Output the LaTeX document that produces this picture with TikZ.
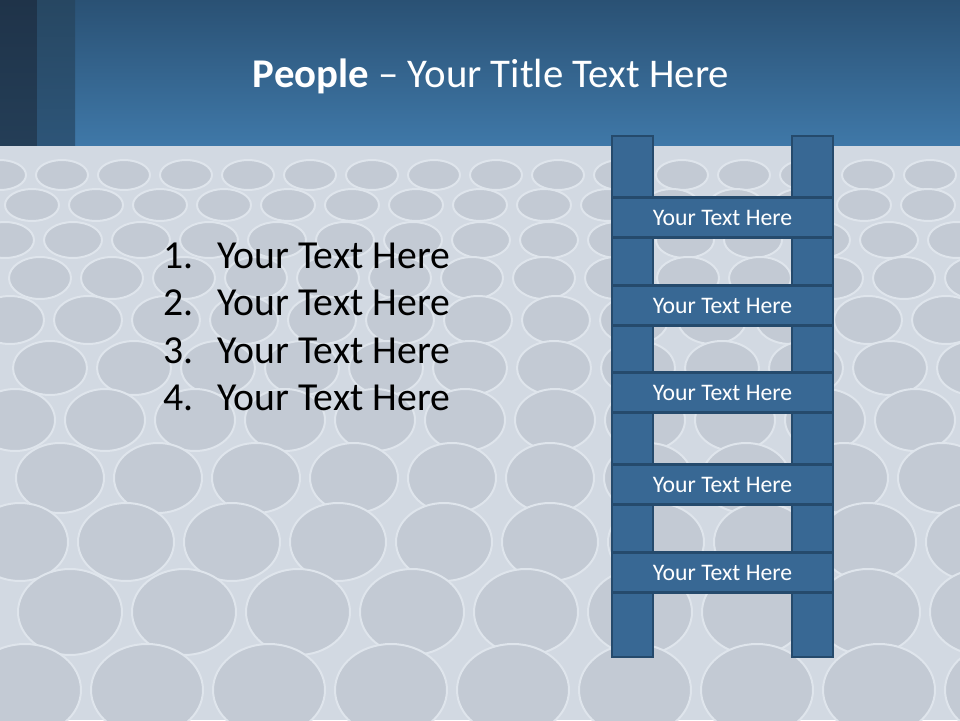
\documentclass[tikz,border=0pt]{standalone}
\usepackage{fontspec}
\setmainfont{Carlito}
\definecolor{hdrtop}{HTML}{2A5174}
\definecolor{hdrbot}{HTML}{3F78A8}
\definecolor{darktop}{HTML}{1F3349}
\definecolor{darkbot}{HTML}{243E57}
\definecolor{midtop}{HTML}{274762}
\definecolor{midbot}{HTML}{2D5578}
\definecolor{metal}{HTML}{D2D9E2}
\definecolor{holec}{HTML}{C3CAD4}
\definecolor{rim}{HTML}{DFE5EC}
\definecolor{ladfill}{HTML}{386894}
\definecolor{ladline}{HTML}{254A6C}
\begin{document}
\begin{tikzpicture}[x=1pt,y=-1pt,
  rail/.style={draw=ladline,line width=2.5pt,fill=ladfill,inner sep=0pt,minimum width=41pt,minimum height=521pt},
  rung/.style={draw=ladline,line width=2.5pt,fill=ladfill,inner sep=0pt,minimum width=221pt,minimum height=40pt,text=white,font=\fontsize{23.7}{28}\selectfont},
  hole/.style={fill=holec,draw=rim,line width=2pt},
  listtxt/.style={anchor=base west,inner sep=0pt,font=\fontsize{39.7}{46}\selectfont,text=black}]
\useasboundingbox (0,0) rectangle (960,720);
% background photo approximation
\fill[metal] (0,145) rectangle (960,720);
\begin{scope}
\clip (0,145) rectangle (960,720);
\foreach \yy/\rx/\ry/\dx/\off in {175/26/15/62/0,205/27/16/64/32,240/29/18/68/5,278/31/21/72/40,320/34/24/78/10,368/37/27/84/50,420/40/31/90/15,478/44/35/98/60,542/48/39/106/20,612/52/43/114/70,690/56/46/122/25}{
  \foreach \i in {0,...,15}{
    \filldraw[hole] (\off+\i*\dx,\yy) ellipse [x radius=\rx, y radius=\ry];
  }
}
\end{scope}
% header
\shade[top color=hdrtop,bottom color=hdrbot] (0,0) rectangle (960,145);
\shade[top color=darktop,bottom color=darkbot] (0,0) rectangle (37,145);
\shade[top color=midtop,bottom color=midbot] (37,0) rectangle (75,145);
\node[text=white,font=\fontsize{40.8}{48}\selectfont,inner sep=0pt] (title) at (491,76) {\textbf{People} – Your Title Text Here};
% list
\node[listtxt] (n1) at (163,268.5) {1.};
\node[listtxt] (t1) at (217,268.5) {Your Text Here};
\node[listtxt] (n2) at (163,315.8) {2.};
\node[listtxt] (t2) at (217,315.8) {Your Text Here};
\node[listtxt] (n3) at (163,363) {3.};
\node[listtxt] (t3) at (217,363) {Your Text Here};
\node[listtxt] (n4) at (163,410.5) {4.};
\node[listtxt] (t4) at (217,410.5) {Your Text Here};
% ladder
\node[rail] (railL) at (632.5,396.5) {};
\node[rail] (railR) at (812.5,396.5) {};
\node[rung] (r1) at (722.5,217.5) {Your Text Here};
\node[rung] (r2) at (722.5,305.5) {Your Text Here};
\node[rung] (r3) at (722.5,392.5) {Your Text Here};
\node[rung] (r4) at (722.5,484.5) {Your Text Here};
\node[rung] (r5) at (722.5,572.5) {Your Text Here};
\end{tikzpicture}
\end{document}
